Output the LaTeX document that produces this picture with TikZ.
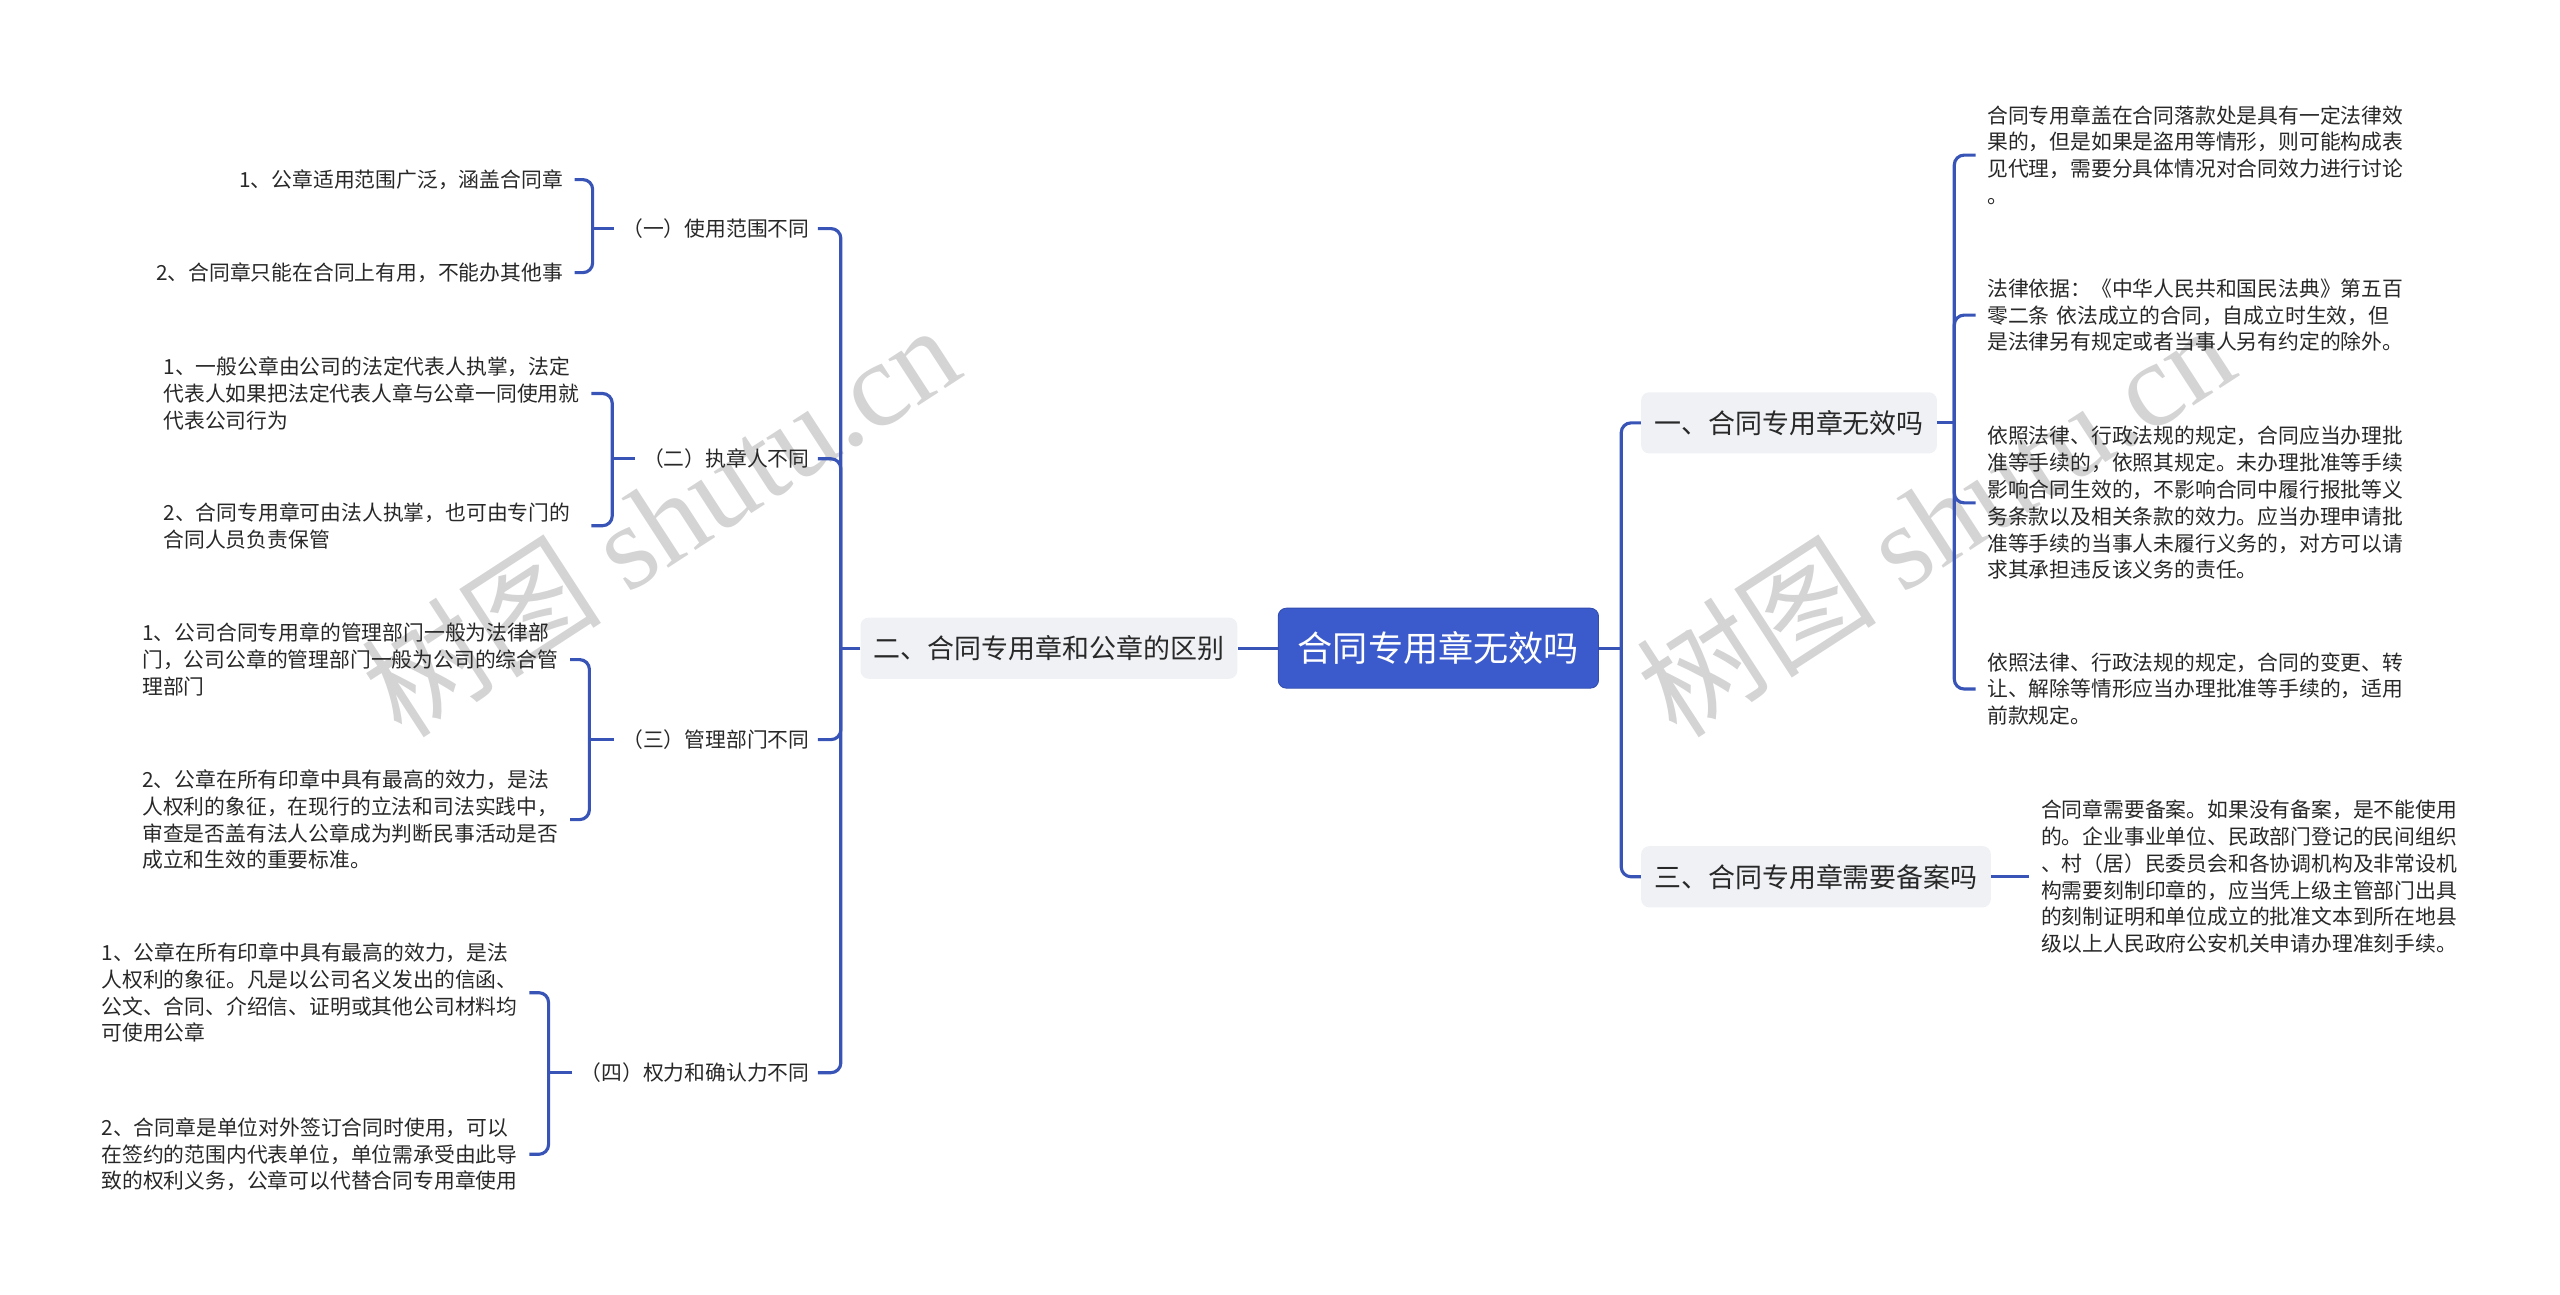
\documentclass[tikz,border=0pt]{standalone}
\usepackage{fontspec}
\setmainfont{Noto Sans CJK SC}
\newfontfamily\wmlatin{Liberation Serif}

\definecolor{rootblue}{RGB}{59,91,204}
\definecolor{linkblue}{RGB}{56,84,182}
\definecolor{topicgray}{RGB}{239,241,245}
\definecolor{textgray}{RGB}{40,40,40}
\definecolor{wmgray}{RGB}{212,212,212}

\tikzset{
  link/.style={draw=linkblue, line width=2.2pt, rounded corners=2.4mm},
  rootbox/.style={fill=rootblue, draw=rootblue!85!black, line width=0.6pt, rounded corners=2mm,
    text=white, font=\fontsize{24.5}{28}\selectfont, inner xsep=4.8mm, minimum height=19.6mm},
  topicbox/.style={fill=topicgray, rounded corners=2mm, text=textgray,
    font=\fontsize{18.8}{22}\selectfont, inner xsep=3.2mm, minimum height=15mm},
  subtopic/.style={text=textgray, font=\fontsize{14.5}{18.7}\selectfont, inner xsep=2mm},
  leaf/.style={text=textgray, font=\fontsize{14.5}{18.7}\selectfont, inner xsep=2.8mm, align=left},
  leafwide/.style={leaf, text width=290pt},
  watermark/.style={text=wmgray, font=\fontsize{84}{94}\selectfont, rotate=33}
}

\begin{document}
\begin{tikzpicture}[x=0.4mm, y=-0.4mm]
  \useasboundingbox (0,0) rectangle (1568,793);

  % watermarks
  \node[watermark] (wmleft) at (404,318) {树图 {\wmlatin shutu.cn}};
  \node[watermark] (wmright) at (1185,318) {树图 {\wmlatin shutu.cn}};

  % centre and main topics
  \node[rootbox] (root) at (881,397) {合同专用章无效吗};
  \node[topicbox, anchor=east] (diff) at (758,397) {二、合同专用章和公章的区别};
  \node[topicbox, anchor=west] (invalid) at (1005,259) {一、合同专用章无效吗};
  \node[topicbox, anchor=west] (record) at (1005,537) {三、合同专用章需要备案吗};

  % left subtopics
  \node[subtopic, anchor=east] (scope) at (501,140) {（一）使用范围不同};
  \node[subtopic, anchor=east] (holder) at (501,281) {（二）执章人不同};
  \node[subtopic, anchor=east] (dept) at (501,453) {（三）管理部门不同};
  \node[subtopic, anchor=east] (power) at (501,657) {（四）权力和确认力不同};

  % left leaves
  \node[leaf, anchor=east] (scopeA) at (352,110) {1、公章适用范围广泛，涵盖合同章};
  \node[leaf, anchor=east] (scopeB) at (352,167) {2、合同章只能在合同上有用，不能办其他事};
  \node[leafwide, anchor=west] (holderA) at (93,241) {1、一般公章由公司的法定代表人执掌，法定\\代表人如果把法定代表人章与公章一同使用就\\代表公司行为};
  \node[leafwide, anchor=west] (holderB) at (93,322) {2、合同专用章可由法人执掌，也可由专门的\\合同人员负责保管};
  \node[leafwide, anchor=west] (deptA) at (80,404) {1、公司合同专用章的管理部门一般为法律部\\门，公司公章的管理部门一般为公司的综合管\\理部门};
  \node[leafwide, anchor=west] (deptB) at (80,502) {2、公章在所有印章中具有最高的效力，是法\\人权利的象征，在现行的立法和司法实践中，\\审查是否盖有法人公章成为判断民事活动是否\\成立和生效的重要标准。};
  \node[leafwide, anchor=west] (powerA) at (55,608) {1、公章在所有印章中具有最高的效力，是法\\人权利的象征。凡是以公司名义发出的信函、\\公文、合同、介绍信、证明或其他公司材料均\\可使用公章};
  \node[leafwide, anchor=west] (powerB) at (55,707) {2、合同章是单位对外签订合同时使用，可以\\在签约的范围内代表单位，单位需承受由此导\\致的权利义务，公章可以代替合同专用章使用};

  % right leaves
  \node[leafwide, anchor=west] (invA) at (1210,95) {合同专用章盖在合同落款处是具有一定法律效\\果的，但是如果是盗用等情形，则可能构成表\\见代理，需要分具体情况对合同效力进行讨论\\。};
  \node[leafwide, anchor=west] (invB) at (1210,193) {法律依据：《中华人民共和国民法典》第五百\\零二条 依法成立的合同，自成立时生效，但\\是法律另有规定或者当事人另有约定的除外。};
  \node[leafwide, anchor=west] (invC) at (1210,308) {依照法律、行政法规的规定，合同应当办理批\\准等手续的，依照其规定。未办理批准等手续\\影响合同生效的，不影响合同中履行报批等义\\务条款以及相关条款的效力。应当办理申请批\\准等手续的当事人未履行义务的，对方可以请\\求其承担违反该义务的责任。};
  \node[leafwide, anchor=west] (invD) at (1210,422) {依照法律、行政法规的规定，合同的变更、转\\让、解除等情形应当办理批准等手续的，适用\\前款规定。};
  \node[leafwide, anchor=west] (recA) at (1243,537) {合同章需要备案。如果没有备案，是不能使用\\的。企业事业单位、民政部门登记的民间组织\\、村（居）民委员会和各协调机构及非常设机\\构需要刻制印章的，应当凭上级主管部门出具\\的刻制证明和单位成立的批准文本到所在地县\\级以上人民政府公安机关申请办理准刻手续。};

  % junctions
  \coordinate (jL) at (515,397);
  \coordinate (jR) at (993,397);
  \coordinate (jScope) at (363,140);
  \coordinate (jHolder) at (375,281);
  \coordinate (jDept) at (361,453);
  \coordinate (jPower) at (336,657);
  \coordinate (jInv) at (1197,259);

  % connectors
  \draw[link] (root.west) -- (diff.east);
  \draw[link] (root.east) -- (jR);
  \draw[link] (invalid.west) -| (jR) |- (record.west);
  \draw[link] (diff.west) -- (jL);
  \draw[link] (scope.east) -| (jL) |- (power.east);
  \draw[link] (holder.east) -| (jL);
  \draw[link] (dept.east) -| (jL);

  \draw[link] (scope.west) -- (jScope);
  \draw[link] (scopeA.east) -| (jScope) |- (scopeB.east);
  \draw[link] (holder.west) -- (jHolder);
  \draw[link] (holderA.east) -| (jHolder) |- (holderB.east);
  \draw[link] (dept.west) -- (jDept);
  \draw[link] (deptA.east) -| (jDept) |- (deptB.east);
  \draw[link] (power.west) -- (jPower);
  \draw[link] (powerA.east) -| (jPower) |- (powerB.east);

  \draw[link] (invalid.east) -- (jInv);
  \draw[link] (invA.west) -| (jInv) |- (invD.west);
  \draw[link] (invB.west) -| (jInv);
  \draw[link] (invC.west) -| (jInv);
  \draw[link] (record.east) -- (recA.west);
\end{tikzpicture}
\end{document}
